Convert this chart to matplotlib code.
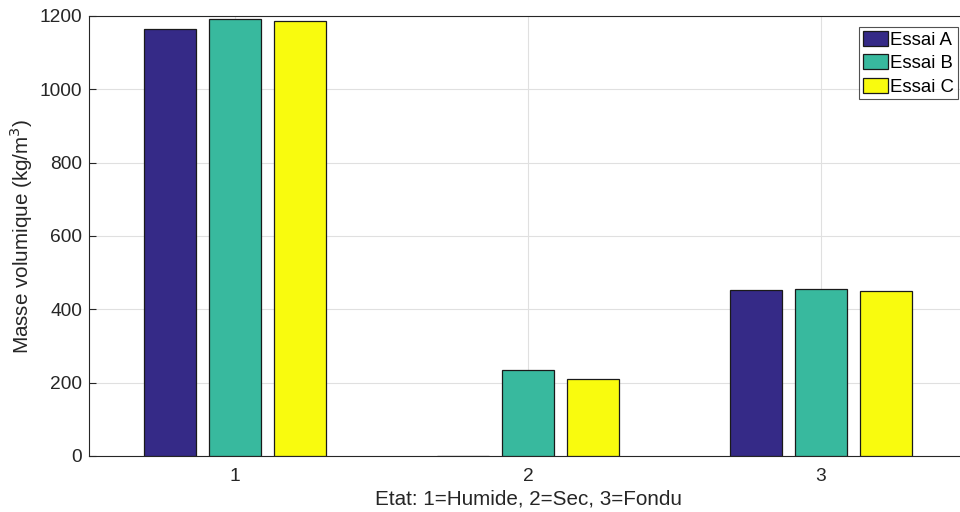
import numpy as np
from matplotlib import pyplot as plt

plt.rcParams['font.family'] = ['Liberation Sans', 'DejaVu Sans']

etats = [1, 2, 3]
essai_a = [1164, 0, 453]
essai_b = [1192, 234, 455]
essai_c = [1186, 210, 450]
series = [("Essai A", essai_a, "#352a87"),
          ("Essai B", essai_b, "#38b99e"),
          ("Essai C", essai_c, "#f9fb0e")]

fig = plt.figure(figsize=(9.6, 5.12), dpi=100)
# axes runs a bit past the right edge of the figure, as in the original
ax = fig.add_axes([0.0922, 0.1094, 0.9156, 0.8594])

x = np.array(etats, dtype=float)
width = 0.178
offsets = [-0.222, 0.0, 0.222]
for (name, vals, col), off in zip(series, offsets):
    ax.bar(x + off, vals, width, color=col, edgecolor="#1a1a1a", linewidth=0.9,
           label=name, zorder=3)

ax.set_xlim(0.5, 3.5)
ax.set_ylim(0, 1200)
ax.set_xticks(etats)
ax.set_yticks(np.arange(0, 1201, 200))
ax.grid(True, color="#e0e0e0", linewidth=0.8, zorder=0)
ax.tick_params(direction="in", length=5, labelsize=13.8, colors="#262626")
ax.tick_params(axis="x", pad=9)
ax.tick_params(axis="y", pad=4.5)
for s in ax.spines.values():
    s.set_color("#262626")
    s.set_linewidth(0.8)

ax.set_xlabel("Etat: 1=Humide, 2=Sec, 3=Fondu", fontsize=14.9, color="#262626", labelpad=3)
ax.set_ylabel("Masse volumique (kg/m$^3$)", fontsize=14.9, color="#262626", labelpad=3)

leg = ax.legend(loc="upper right", bbox_to_anchor=(958 / 960, 1 - 27 / 512),
                bbox_transform=fig.transFigure, fontsize=13.4, frameon=True,
                fancybox=False, borderpad=0.2, handlelength=1.34, handleheight=0.86,
                handletextpad=0.12, labelspacing=0.3, borderaxespad=0)
leg.get_frame().set_edgecolor("#262626")
leg.get_frame().set_linewidth(0.8)

fig.savefig("out.png", dpi=100)
